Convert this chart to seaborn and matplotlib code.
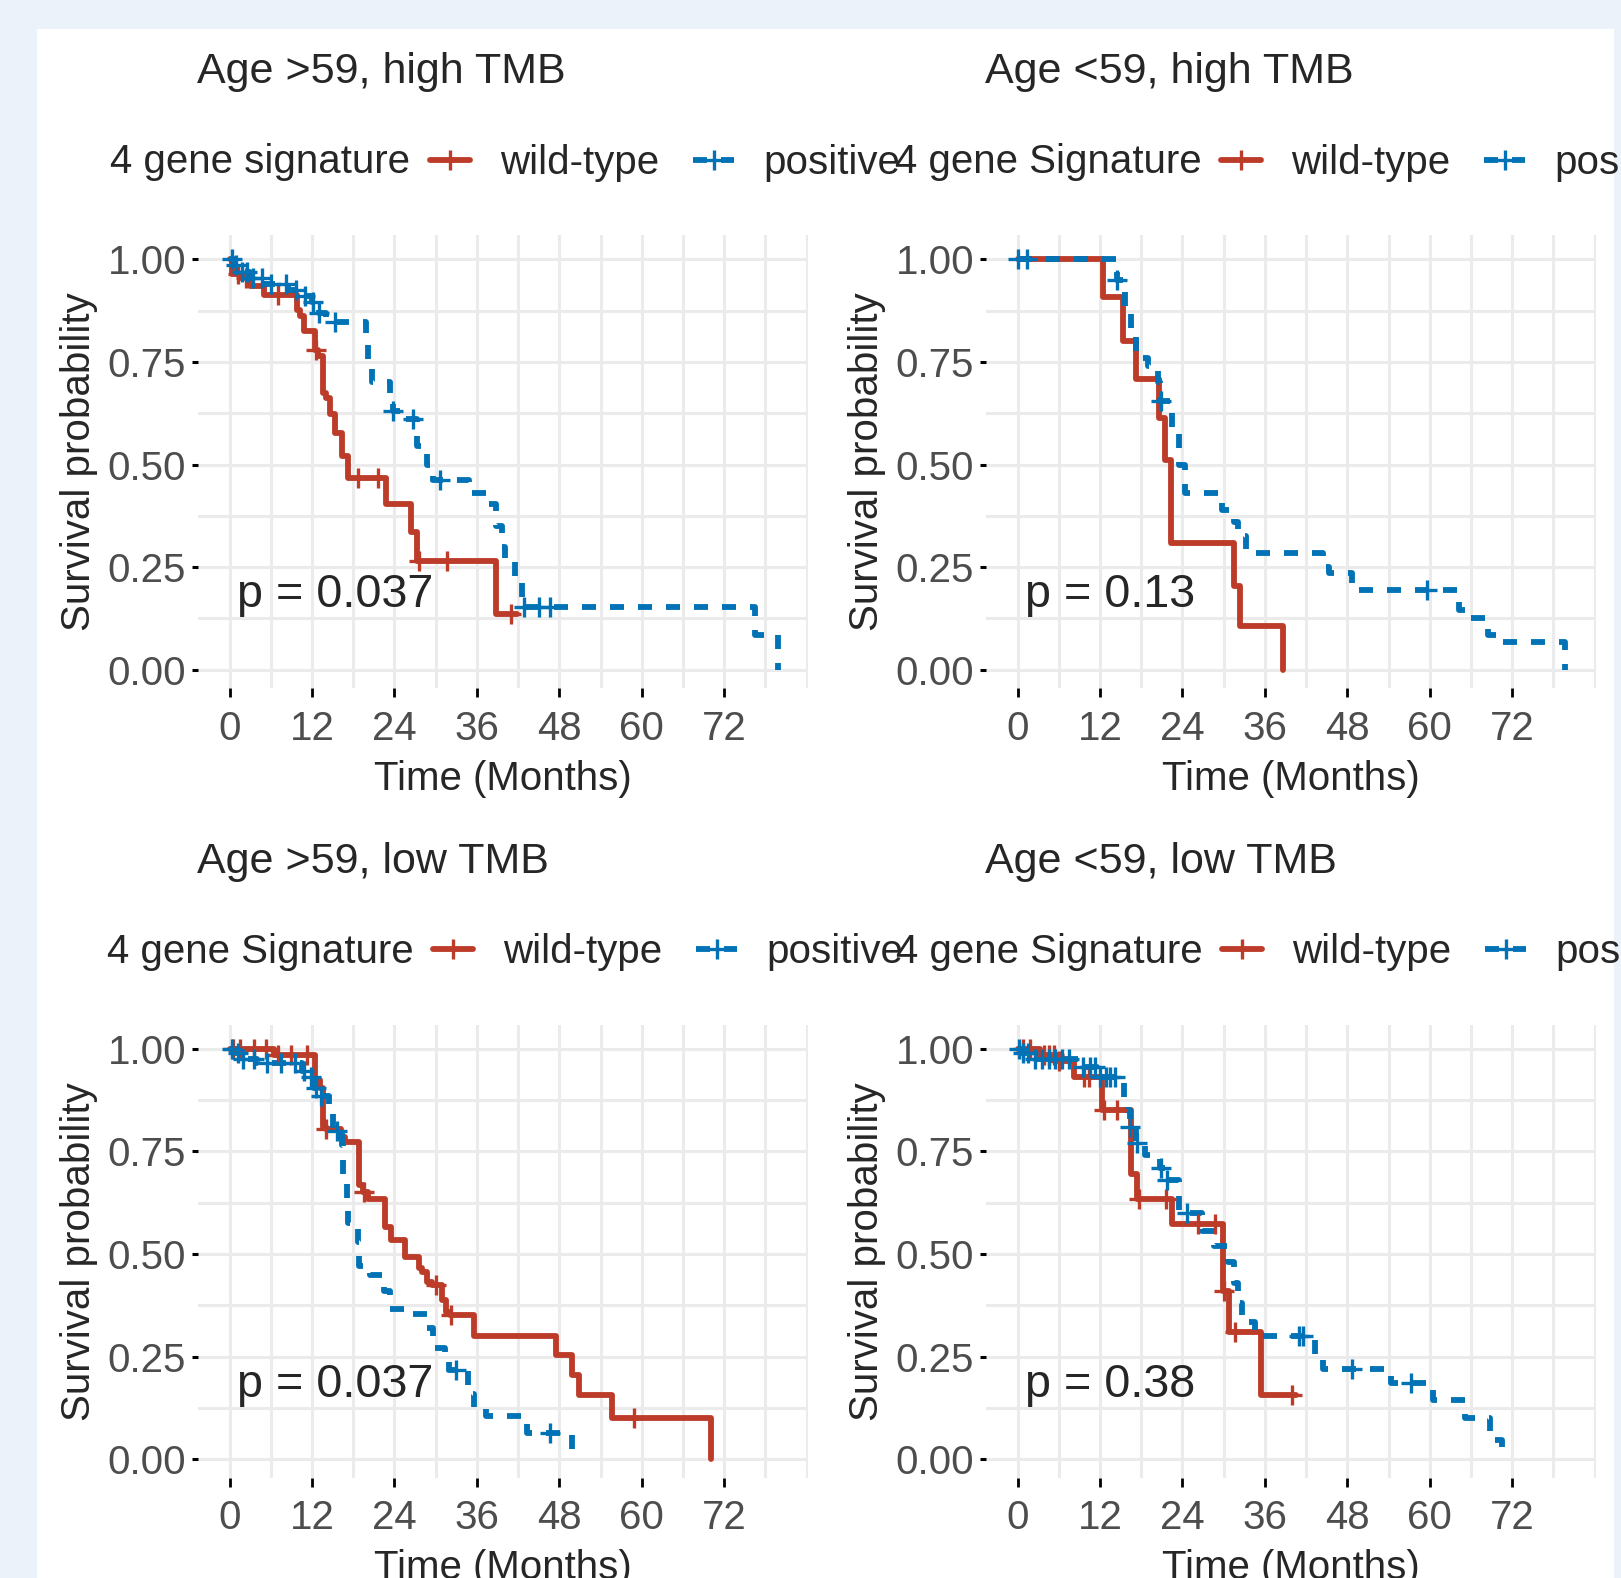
import numpy as np
import matplotlib
matplotlib.use('Agg')
import matplotlib.pyplot as plt
import seaborn as sns
from matplotlib.lines import Line2D
from matplotlib.patches import Rectangle
from matplotlib.ticker import FixedLocator

sns.set_style("white")
plt.rcParams['font.family'] = ['Liberation Sans', 'DejaVu Sans']

RED = '#BC3C29'
BLUE = '#0072B5'
BG = '#EBF2FA'
GRID = '#EBEBEB'

# ---------------- data ----------------
panel_titles = ['Age >59, high TMB', 'Age <59, high TMB', 'Age >59, low TMB', 'Age <59, low TMB']
legend_titles = ['4 gene signature', '4 gene Signature', '4 gene Signature', '4 gene Signature']
group_labels = ['wild-type', 'positive']
pvals = ['p = 0.037', 'p = 0.13', 'p = 0.037', 'p = 0.38']
x_breaks = [0, 12, 24, 36, 48, 60, 72]
y_breaks = [0.0, 0.25, 0.5, 0.75, 1.0]

# Age >59, high TMB
tl_wt_time = [0, 0.3, 1.5, 3.0, 5.0, 9.8, 10.3, 10.8, 12.4, 12.9, 13.6, 14.1, 14.6, 15.4, 16.4, 17.2, 22.7, 26.4, 27.3, 38.8, 41.8]
tl_wt_surv = [1.0, 0.965, 0.955, 0.935, 0.912, 0.876, 0.862, 0.824, 0.78, 0.765, 0.673, 0.662, 0.624, 0.576, 0.52, 0.466, 0.405, 0.336, 0.266, 0.137, 0.137]
tl_wt_cens = [1.2, 2.4, 7.1, 12.6, 18.7, 21.6, 27.6, 31.7, 40.9]
tl_pos_time = [0, 0.6, 1.6, 3.0, 5.0, 8.5, 10.5, 12.0, 13.0, 14.0, 19.8, 20.1, 20.8, 23.4, 23.8, 25.5, 27.3, 28.7, 29.6, 34.8, 37.4, 38.8, 39.7, 40.1, 41.5, 42.5, 76.5, 79.9]
tl_pos_surv = [1.0, 0.985, 0.97, 0.955, 0.94, 0.925, 0.91, 0.895, 0.87, 0.848, 0.79, 0.745, 0.70, 0.665, 0.63, 0.61, 0.545, 0.50, 0.463, 0.43, 0.405, 0.35, 0.30, 0.265, 0.22, 0.153, 0.084, 0.0]
tl_pos_cens = [0.3, 1.0, 1.8, 2.6, 3.4, 4.7, 6.0, 8.2, 9.6, 11.0, 12.2, 13.0, 15.4, 23.8, 26.7, 30.6, 42.8, 45.0, 46.6]

# Age <59, high TMB
tr_wt_time = [0, 12.4, 15.4, 17.3, 20.6, 21.4, 22.3, 31.5, 32.4, 38.7]
tr_wt_surv = [1.0, 0.909, 0.80, 0.708, 0.613, 0.51, 0.31, 0.203, 0.107, 0.0]
tr_wt_cens = []
tr_pos_time = [0, 14.4, 15.6, 16.5, 17.3, 19.0, 20.4, 20.8, 22.5, 23.5, 24.4, 29.7, 31.5, 32.1, 33.3, 44.5, 45.4, 48.7, 64.3, 65.8, 68.5, 69.7, 79.7]
tr_pos_surv = [1.0, 0.95, 0.87, 0.83, 0.76, 0.74, 0.70, 0.655, 0.59, 0.50, 0.43, 0.39, 0.36, 0.325, 0.284, 0.25, 0.235, 0.195, 0.145, 0.125, 0.085, 0.068, 0.0]
tr_pos_cens = [0.1, 1.4, 14.5, 20.9, 59.6]

# Age >59, low TMB
bl_wt_time = [0, 6.5, 12.5, 13.1, 13.6, 14.0, 16.2, 16.8, 18.8, 19.4, 20.2, 22.6, 23.5, 25.6, 27.6, 28.0, 28.8, 29.5, 30.9, 31.5, 32.1, 35.6, 47.5, 49.9, 50.8, 55.6, 70.1]
bl_wt_surv = [1.0, 0.985, 0.925, 0.905, 0.81, 0.805, 0.785, 0.773, 0.667, 0.65, 0.635, 0.566, 0.534, 0.493, 0.465, 0.457, 0.432, 0.424, 0.388, 0.36, 0.351, 0.30, 0.254, 0.205, 0.157, 0.10, 0.0]
bl_wt_cens = [0.5, 1.5, 3.6, 5.3, 7.1, 8.9, 11.3, 14.0, 19.5, 30.0, 32.3, 58.9]
bl_pos_time = [0, 0.8, 1.8, 4.0, 10.5, 11.6, 12.3, 13.0, 14.5, 15.0, 16.3, 16.5, 17.1, 17.3, 18.7, 18.8, 20.5, 22.5, 23.4, 26.7, 28.7, 29.6, 31.4, 32.0, 34.7, 35.6, 37.3, 43.3, 49.9]
bl_pos_surv = [1.0, 0.99, 0.975, 0.965, 0.945, 0.93, 0.905, 0.885, 0.84, 0.80, 0.765, 0.68, 0.635, 0.575, 0.53, 0.47, 0.45, 0.41, 0.365, 0.355, 0.32, 0.27, 0.24, 0.217, 0.16, 0.125, 0.105, 0.065, 0.02]
bl_pos_cens = [0.3, 1.2, 2.0, 3.5, 5.5, 7.5, 9.5, 10.8, 11.8, 12.6, 13.3, 15.7, 33.0, 46.6]

# Age <59, low TMB
br_wt_time = [0, 3.2, 5.9, 8.2, 12.3, 16.5, 17.4, 22.5, 29.9, 30.8, 35.5, 40.5]
br_wt_surv = [1.0, 0.985, 0.97, 0.93, 0.85, 0.696, 0.635, 0.574, 0.41, 0.31, 0.156, 0.156]
br_wt_cens = [0.8, 1.8, 3.8, 4.5, 5.3, 6.0, 9.6, 10.4, 12.6, 14.4, 17.6, 21.6, 26.3, 28.7, 30.0, 31.7, 40.0]
br_pos_time = [0, 0.5, 2.0, 9.0, 11.5, 15.5, 16.3, 17.2, 18.5, 20.8, 21.7, 23.5, 26.8, 28.6, 30.6, 31.5, 32.1, 32.7, 34.5, 43.3, 44.5, 54.3, 60.5, 65.2, 68.8, 70.5]
br_pos_surv = [1.0, 0.99, 0.975, 0.955, 0.93, 0.85, 0.81, 0.77, 0.74, 0.71, 0.68, 0.60, 0.555, 0.52, 0.48, 0.43, 0.38, 0.335, 0.30, 0.25, 0.22, 0.187, 0.145, 0.10, 0.047, 0.0]
br_pos_cens = [0.2, 0.8, 1.5, 2.5, 3.5, 4.5, 5.5, 6.5, 7.5, 9.5, 10.5, 11.2, 12.0, 12.8, 13.5, 14.2, 16.4, 17.4, 20.9, 21.8, 24.7, 40.9, 41.6, 48.7, 57.2]

curves = [
    (tl_wt_time, tl_wt_surv, tl_wt_cens, tl_pos_time, tl_pos_surv, tl_pos_cens),
    (tr_wt_time, tr_wt_surv, tr_wt_cens, tr_pos_time, tr_pos_surv, tr_pos_cens),
    (bl_wt_time, bl_wt_surv, bl_wt_cens, bl_pos_time, bl_pos_surv, bl_pos_cens),
    (br_wt_time, br_wt_surv, br_wt_cens, br_pos_time, br_pos_surv, br_pos_cens),
]

# ---------------- layout (pixels of the 1621x1578 canvas) ----------------
W, H = 1621, 1578
col_left = [198, 986]
row_top = [235, 1024.5]
pan_w, pan_h = 610, 453.3
legend_key_x = [[430, 1221], [433, 1222]]
FS = 29

DASH = (0, (2.4, 2.4))


def fx(px):
    return px / W


def fy(py):
    return 1 - py / H


def surv_at(times, surv, c):
    idx = np.searchsorted(np.asarray(times), np.asarray(c, dtype=float), side='right') - 1
    return np.asarray(surv)[idx]


def draw_km(ax, t, s, cens, color, ls):
    sns.lineplot(x=t, y=s, ax=ax, color=color, linewidth=4.2, linestyle=ls,
                 drawstyle='steps-post', estimator=None, legend=False, zorder=3)
    if len(cens):
        sns.scatterplot(x=cens, y=surv_at(t, s, cens), ax=ax, marker='+', s=220,
                        color=color, linewidth=2.4, legend=False, zorder=4)


fig = plt.figure(figsize=(W / 100, H / 100), dpi=100, facecolor=BG)
fig.add_artist(Rectangle((fx(37), 0), (1614 - 37) / W, fy(29), transform=fig.transFigure,
                         facecolor='white', edgecolor='none', zorder=-1))

for i in range(4):
    r, c = divmod(i, 2)
    left, top = col_left[c], row_top[r]
    ax = fig.add_axes([fx(left), fy(top + pan_h), pan_w / W, pan_h / H])
    ax.set_facecolor('white')

    wt_t, wt_s, wt_c, pos_t, pos_s, pos_c = curves[i]
    draw_km(ax, wt_t, wt_s, wt_c, RED, '-')
    draw_km(ax, pos_t, pos_s, pos_c, BLUE, DASH)

    ax.set_xlim(-4.6, 84.2)
    ax.set_ylim(-0.045, 1.059)
    ax.set_xticks(x_breaks)
    ax.set_xticklabels([str(v) for v in x_breaks])
    ax.set_yticks(y_breaks)
    ax.set_yticklabels(['%.2f' % v for v in y_breaks])
    ax.xaxis.set_minor_locator(FixedLocator([6, 18, 30, 42, 54, 66, 78, 84]))
    ax.yaxis.set_minor_locator(FixedLocator([0.125, 0.375, 0.625, 0.875]))
    ax.grid(which='both', color=GRID, linewidth=2.2)
    ax.set_axisbelow(True)
    for sp in ax.spines.values():
        sp.set_visible(False)
    ax.tick_params(which='minor', length=0)
    ax.tick_params(axis='x', which='major', length=6.5, width=2, color='black', pad=9,
                   labelsize=FS, labelcolor='#4D4D4D', bottom=True)
    ax.tick_params(axis='y', which='major', length=4.5, width=2.2, color='black', pad=4,
                   labelsize=FS, labelcolor='#4D4D4D', left=True)
    ax.set_xlabel('')
    ax.set_ylabel('')

    ax.text(1.1, 0.153, pvals[i], fontsize=33.7, ha='left', va='baseline', zorder=5)

    # titles, axis labels
    fig.text(fx(left - 1), fy(top - 151.7), panel_titles[i], fontsize=31, ha='left', va='baseline')
    fig.text(fx(left + pan_w / 2), fy(top + 555), 'Time (Months)', fontsize=FS,
             ha='center', va='baseline')
    fig.text(fx(left - 107.5), fy(top + 227), 'Survival probability', fontsize=FS,
             rotation=90, rotation_mode='anchor', ha='center', va='baseline')

    # legend
    kx = legend_key_x[r][c]
    leg_base = top - 61.7
    fig.text(fx(kx - 19.5), fy(leg_base), legend_titles[i], fontsize=FS, ha='right', va='baseline')
    handles = [Line2D([], [], color=RED, lw=4.2, marker='+', markersize=14, mew=2.4),
               Line2D([], [], color=BLUE, lw=4.2, linestyle=DASH, marker='+', markersize=14, mew=2.4)]
    ax.legend(handles, group_labels, ncol=2, loc='center left',
              bbox_to_anchor=(fx(kx), fy(leg_base - 10.5)), bbox_transform=fig.transFigure,
              frameon=False, fontsize=FS, handlelength=1.0, handletextpad=0.74,
              columnspacing=0.85, borderpad=0, borderaxespad=0)

fig.savefig('out.png', dpi=100, facecolor=fig.get_facecolor())
